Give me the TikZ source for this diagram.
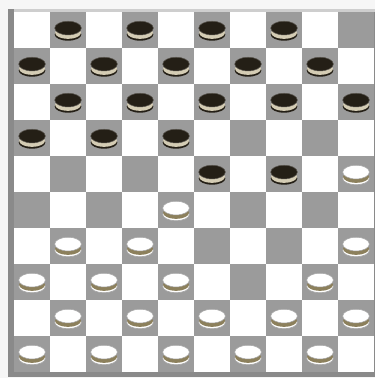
\documentclass[tikz,border=0pt]{standalone}
\usepackage{xcolor}
\usepackage{tikz}

\definecolor{pagebg}{RGB}{246,246,246}
\definecolor{darksq}{RGB}{155,155,155}
\definecolor{framegray}{RGB}{138,138,138}
\definecolor{frametop}{RGB}{206,206,206}
\definecolor{blackpc}{RGB}{36,31,22}
\definecolor{blackrim}{RGB}{212,204,180}
\definecolor{whiterim}{RGB}{140,128,92}
\definecolor{whiteedge}{RGB}{165,165,165}

\tikzset{
  darksquare/.style={fill=darksq},
  blackpiece/.pic={
    \fill[blackpc] (0,-0.13) ellipse [x radius=0.37, y radius=0.17];
    \fill[blackrim] (0,-0.08) ellipse [x radius=0.36, y radius=0.17];
    \filldraw[fill=blackpc, draw=blackpc!75!white, line width=0.4pt] (0,0.05) ellipse [x radius=0.37, y radius=0.19];
  },
  whitepiece/.pic={
    \filldraw[fill=white, draw=whiteedge, line width=0.5pt] (0,-0.13) ellipse [x radius=0.37, y radius=0.17];
    \fill[whiterim] (0,-0.08) ellipse [x radius=0.36, y radius=0.17];
    \filldraw[fill=white, draw=whiteedge, line width=0.4pt] (0,0.05) ellipse [x radius=0.37, y radius=0.19];
  }
}

\begin{document}
\begin{tikzpicture}
        \useasboundingbox (0,0) rectangle (10.417,10.5);
        \fill[pagebg] (0,0) rectangle (10.417,10.5);

        % Frame
        \fill[framegray] (0.22,0.03) rectangle (10.417,10.25);
        \fill[frametop] (0.39,10.17) rectangle (10.417,10.25);

        % Squares
        \fill[white] (0.39,0.17) rectangle (10.39,10.17);
        \foreach \r in {0,...,9}
            \foreach \c in {0,...,9} {
                \pgfmathtruncatemacro{\odd}{mod(\r+\c,2)}
                \ifnum\odd=1
                    \fill[darksquare] ({0.39+\c},{9.17-\r}) rectangle ({1.39+\c},{10.17-\r});
                \fi
            }

        % Black pieces
        \foreach \c/\r in {1/0,3/0,5/0,7/0, 0/1,2/1,4/1,6/1,8/1, 1/2,3/2,5/2,7/2,9/2, 0/3,2/3,4/3, 5/4,7/4}
            \pic at ({0.89+\c},{9.67-\r}) {blackpiece};

        % White pieces
        \foreach \c/\r in {9/4, 4/5, 1/6,3/6,9/6, 0/7,2/7,4/7,8/7, 1/8,3/8,5/8,7/8,9/8, 0/9,2/9,4/9,6/9,8/9}
            \pic at ({0.89+\c},{9.67-\r}) {whitepiece};
    \end{tikzpicture}
\end{document}
